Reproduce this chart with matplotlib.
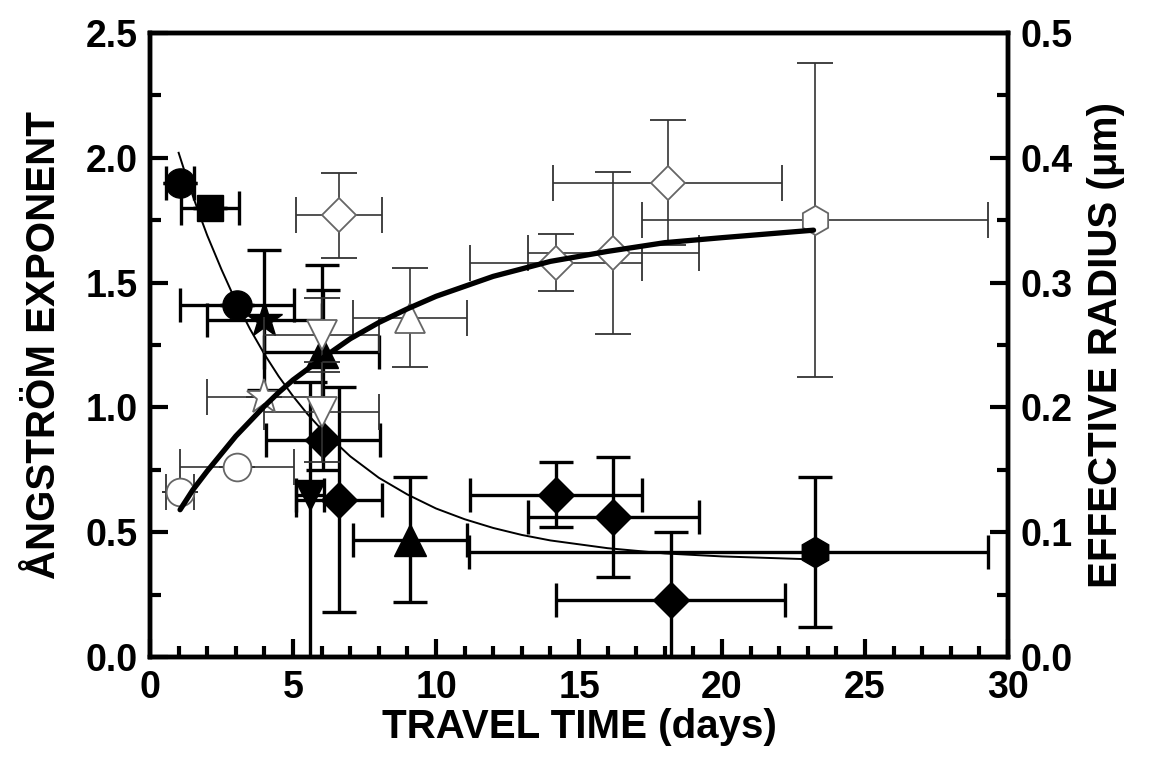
import numpy as np
import matplotlib
matplotlib.use("Agg")
from matplotlib import pyplot as plt
from matplotlib.ticker import MultipleLocator

plt.rcParams["font.family"] = ["Liberation Sans", "DejaVu Sans"]
plt.rcParams["font.weight"] = "bold"

# Angstrom exponent (left axis, filled symbols)
ang_x = [1.05, 2.1, 3.05, 4.0, 6.0, 6.05, 5.6, 6.6, 9.1, 14.2, 16.2, 18.2, 23.25]
ang_y = [1.90, 1.80, 1.41, 1.35, 1.22, 0.87, 0.65, 0.63, 0.47, 0.65, 0.56, 0.23, 0.42]
ang_xerr_lo = [0.5, 1.0, 2.0, 2.0, 2.0, 2.0, 0.5, 1.5, 2.0, 3.0, 3.0, 4.0, 12.1]
ang_xerr_hi = [0.5, 1.0, 2.0, 2.0, 2.0, 2.0, 0.5, 1.5, 2.0, 3.0, 3.0, 4.0, 6.05]
ang_yerr_lo = [0.0, 0.0, 0.0, 0.28, 0.35, 0.12, 0.65, 0.45, 0.25, 0.13, 0.24, 0.27, 0.30]
ang_yerr_hi = [0.0, 0.0, 0.0, 0.28, 0.35, 0.60, 0.45, 0.45, 0.25, 0.13, 0.24, 0.27, 0.30]
ang_markers = ["o", "s", "o", "*", "^", "D", "v", "D", "^", "D", "D", "D", "h"]

# effective radius (right axis, open symbols)
rad_x = [1.05, 3.05, 4.0, 6.0, 6.0, 6.6, 9.1, 14.2, 16.2, 18.1, 23.25]
rad_y = [0.132, 0.152, 0.208, 0.258, 0.196, 0.354, 0.272, 0.316, 0.324, 0.380, 0.350]
rad_xerr = [0.5, 2.0, 2.0, 2.0, 2.0, 1.5, 2.0, 3.0, 3.0, 4.0, 6.05]
rad_yerr = [0.0, 0.0, 0.0, 0.03, 0.04, 0.034, 0.04, 0.023, 0.065, 0.05, 0.126]
rad_markers = ["o", "o", "*", "v", "v", "D", "^", "D", "D", "D", "h"]

# fitted curves
ang_fit_x = [1.0, 1.25, 1.5, 1.75, 2, 2.5, 3, 3.5, 4, 4.5, 5, 5.5, 6, 7, 8, 9, 10,
             11, 12, 13, 14, 16, 18, 20, 23.2]
ang_fit_y = [2.02, 1.931, 1.846, 1.766, 1.689, 1.552, 1.425, 1.313, 1.213, 1.124,
             1.045, 0.974, 0.911, 0.804, 0.718, 0.651, 0.595, 0.552, 0.517,
             0.489, 0.467, 0.436, 0.415, 0.403, 0.391]
rad_fit_x = [1.05, 1.5, 2, 2.5, 3, 3.5, 4, 4.5, 5, 6, 7, 8, 9, 10, 11, 12, 13, 14,
             16, 18, 20, 23.2]
rad_fit_y = [0.118, 0.134, 0.149, 0.163, 0.177, 0.189, 0.201, 0.212, 0.222,
             0.239, 0.255, 0.268, 0.279, 0.289, 0.297, 0.305, 0.311, 0.317,
             0.325, 0.332, 0.336, 0.342]

marker_size = {"o": 21, "s": 19, "*": 27, "^": 23, "v": 22, "D": 18, "h": 22}

fig = plt.figure(figsize=(11.64, 7.67), dpi=100)
ax = fig.add_axes([0.1289, 0.1434, 0.7371, 0.8136])
ax2 = ax.twinx()

for i in range(len(ang_x)):
    ax.errorbar(ang_x[i], ang_y[i],
                xerr=[[ang_xerr_lo[i]], [ang_xerr_hi[i]]],
                yerr=[[ang_yerr_lo[i]], [ang_yerr_hi[i]]],
                fmt=ang_markers[i], ms=marker_size[ang_markers[i]],
                mfc="black", mec="black", ecolor="black",
                elinewidth=2.4, capsize=12, capthick=2.4, zorder=3)
ax.plot(ang_fit_x, ang_fit_y, color="black", lw=1.4, zorder=4)

for i in range(len(rad_x)):
    m = rad_markers[i]
    ax2.errorbar(rad_x[i], rad_y[i], xerr=rad_xerr[i], yerr=rad_yerr[i],
                 fmt=m, ms=marker_size[m] - 1, mfc="white", mec="#666666",
                 mew=1.3, ecolor="#333333", elinewidth=1.2,
                 capsize=13, capthick=1.2, zorder=3)
ax2.plot(rad_fit_x, rad_fit_y, color="black", lw=3.8, zorder=5,
         solid_capstyle="round")

ax.set_xlim(0, 30)
ax.set_ylim(0, 2.5)
ax2.set_ylim(0, 0.5)

ax.xaxis.set_major_locator(MultipleLocator(5))
ax.xaxis.set_minor_locator(MultipleLocator(1))
ax.yaxis.set_major_locator(MultipleLocator(0.5))
ax.yaxis.set_minor_locator(MultipleLocator(0.25))
ax2.yaxis.set_major_locator(MultipleLocator(0.1))
ax2.yaxis.set_minor_locator(MultipleLocator(0.05))
ax.yaxis.set_major_formatter(lambda v, p: f"{v:.1f}")
ax2.yaxis.set_major_formatter(lambda v, p: f"{v:.1f}")

for a in (ax, ax2):
    a.tick_params(which="major", direction="in", length=13, width=3,
                  labelsize=27, pad=9)
    a.tick_params(which="minor", direction="in", length=8, width=3)
    for s in a.spines.values():
        s.set_linewidth(3.2)
ax.tick_params(axis="y", which="both", right=False)
ax.tick_params(axis="x", which="both", top=False)
ax2.tick_params(axis="y", which="both", left=False)

ax.set_xlabel("TRAVEL TIME (days)", fontsize=29, fontweight="bold", labelpad=2)
ax.set_ylabel("ÅNGSTRÖM EXPONENT", fontsize=29, fontweight="bold", labelpad=16)
ax2.set_ylabel("EFFECTIVE RADIUS (μm)", fontsize=29, fontweight="bold", labelpad=10)

fig.savefig("out.png", dpi=100)
